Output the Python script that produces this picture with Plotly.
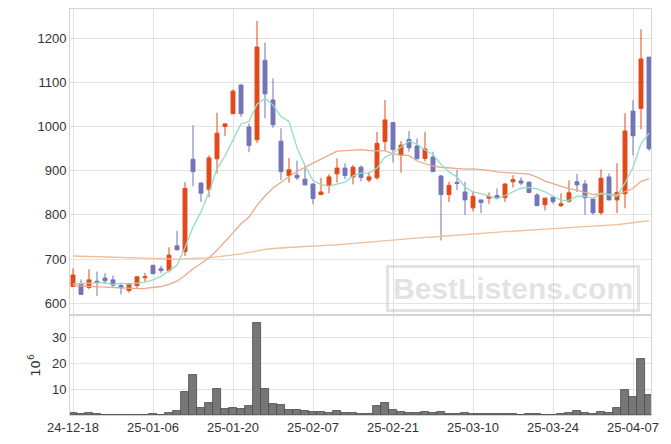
import plotly.graph_objects as go
import pandas as pd

dates = ["24-12-18","24-12-19","24-12-20","24-12-23","24-12-24","24-12-26","24-12-27","24-12-30",
         "25-01-02","25-01-03",
         "25-01-06","25-01-07","25-01-08","25-01-09","25-01-10","25-01-13","25-01-14","25-01-15","25-01-16","25-01-17",
         "25-01-20","25-01-21","25-01-22","25-01-23","25-01-24","25-01-31","25-02-03","25-02-04","25-02-05","25-02-06",
         "25-02-07","25-02-10","25-02-11","25-02-12","25-02-13","25-02-14","25-02-17","25-02-18","25-02-19","25-02-20",
         "25-02-21","25-02-24","25-02-25","25-02-26","25-02-27","25-02-28","25-03-04","25-03-05","25-03-06","25-03-07",
         "25-03-10","25-03-11","25-03-12","25-03-13","25-03-14","25-03-17","25-03-18","25-03-19","25-03-20","25-03-21",
         "25-03-24","25-03-25","25-03-26","25-03-27","25-03-28","25-03-31","25-04-01","25-04-02","25-04-03","25-04-04",
         "25-04-07","25-04-08","25-04-09"]

open_ = [638,645,636,650,657,653,640,629,640,658,
         686,678,674,730,717,926,872,858,927,1000,
         1029,1094,999,970,1150,1060,967,889,890,881,
         870,846,866,893,906,886,908,879,884,966,
         1009,936,971,956,928,931,888,846,874,852,
         816,834,838,844,839,875,877,874,845,823,
         840,821,831,875,870,836,805,886,834,848,
         1035,1041,1157]
high = [679,654,677,672,668,663,645,645,661,669,
        687,685,727,764,874,1003,874,935,1031,1007,
        1084,1095,1007,1239,1190,1109,996,929,923,911,
        871,884,892,928,917,913,912,897,988,1060,
        1010,967,990,973,988,943,891,875,902,875,
        853,834,851,860,871,890,885,876,849,839,
        841,849,878,893,879,837,903,894,917,1030,
        1060,1220,1158]
low = [637,619,632,617,644,636,620,624,635,649,
       666,668,670,720,707,865,829,840,894,979,
       1028,1022,942,963,1019,997,879,873,879,867,
       824,845,849,873,881,869,876,874,880,945,
       919,896,943,926,921,897,742,829,856,800,
       808,804,825,835,829,862,867,849,820,810,
       825,818,828,852,800,800,800,833,804,815,
       935,994,945]
close = [664,620,653,647,651,641,635,644,660,660,
         667,674,709,721,860,898,849,929,985,1006,
         1080,1029,957,1180,1074,1004,898,902,884,868,
         837,852,886,906,889,908,885,886,962,1015,
         948,958,952,927,949,898,846,867,871,834,
         842,828,842,838,870,880,872,851,821,838,
         830,825,850,868,839,805,883,834,851,990,
         979,1153,950]

volume = [0.8,0.3,0.8,0.5,0.15,0.1,0.1,0.1,0.1,0.1,
          0.3,0.1,0.8,1.6,9.0,15.4,2.8,4.6,10.0,2.4,
          2.7,2.4,3.6,35.5,10.0,4.3,4.0,2.0,2.0,1.6,
          1.2,1.2,0.8,1.6,0.8,0.8,0.4,0.4,3.6,4.7,
          2.0,1.2,0.8,0.8,1.2,0.8,1.2,0.4,0.4,0.8,
          0.4,0.4,0.4,0.4,0.4,0.3,0.1,0.4,0.4,0.1,
          0.1,0.4,0.8,1.6,0.8,0.4,1.2,0.8,2.8,9.7,
          7.0,21.6,7.8]

# moving-average warm-up values (before enough bars exist)
ma5_head = [644, 644.5, 645.5, 647]
ma20_head = [640,639,638,637,636,635,634,633.5,633,634,636,638,643,650,663,678,690,703,720]
ma_long = [707,706.5,706,705,704.5,704,703,702.5,702,701,
           700.5,700,700,700,700.5,701,702,703.5,705,707,
           709,712,715,719,722,724,725.5,726.5,727.5,728.5,
           729.5,730,731,732.5,734,735.5,737,739,741,743,
           744.5,746,747,748,749,750,751.5,753,754,755,
           756.5,758,759,760.5,762,763,764.5,765.5,767,768,
           769,770,771,772,773,774,775,776,778,780,
           782,784.5,787]

price_ticks = [600, 700, 800, 900, 1000, 1100, 1200]
vol_ticks = [10, 20, 30]
x_ticks = dates[::10]

cs = pd.Series(close, dtype=float)
ma5 = cs.rolling(5).mean().tolist()
ma5[:4] = ma5_head
ma20 = cs.rolling(20).mean().tolist()
ma20[:19] = ma20_head

UP = "#E2491A"
DOWN = "#7275B6"

fig = go.Figure()
fig.add_trace(go.Scatter(x=dates, y=ma_long, mode="lines",
                         line=dict(color="#F1BF98", width=1.3), xaxis="x", yaxis="y", hoverinfo="skip"))
fig.add_trace(go.Scatter(x=dates, y=ma20, mode="lines",
                         line=dict(color="#EFA989", width=1.3), xaxis="x", yaxis="y", hoverinfo="skip"))
fig.add_trace(go.Scatter(x=dates, y=ma5, mode="lines",
                         line=dict(color="#93DDC3", width=1.3), xaxis="x", yaxis="y", hoverinfo="skip"))
fig.add_trace(go.Candlestick(x=dates, open=open_, high=high, low=low, close=close,
                             increasing=dict(line=dict(color=UP, width=1), fillcolor=UP),
                             decreasing=dict(line=dict(color=DOWN, width=1), fillcolor=DOWN),
                             whiskerwidth=0, xaxis="x", yaxis="y"))
fig.add_trace(go.Bar(x=dates, y=volume, marker=dict(color="#777777", line=dict(color="#4a4a4a", width=0.8)),
                     xaxis="x2", yaxis="y2"))

font_family = "Liberation Sans, Arial, sans-serif"
grid = "#E3E3E3"
axline = "#D4D4D4"

fig.update_layout(
    width=671, height=444,
    margin=dict(l=70, r=20, t=9, b=29),
    paper_bgcolor="white", plot_bgcolor="white",
    showlegend=False, bargap=0,
    font=dict(family=font_family, size=13, color="#333333"),
    xaxis=dict(domain=[0, 1], anchor="y", type="category", range=[-0.375, 72.25],
               tickmode="array", tickvals=x_ticks, showticklabels=False,
               showgrid=True, gridcolor=grid, gridwidth=1,
               showline=True, linecolor=axline, mirror=True, ticks="",
               rangeslider=dict(visible=False)),
    yaxis=dict(domain=[0.249, 1], anchor="x", range=[576, 1266],
               tickmode="array", tickvals=price_ticks,
               showgrid=True, gridcolor=grid, zeroline=False,
               showline=True, linecolor=axline, mirror=True, ticks=""),
    xaxis2=dict(domain=[0, 1], anchor="y2", type="category", range=[-0.375, 72.25],
                matches="x", tickmode="array", tickvals=x_ticks, ticktext=x_ticks,
                showgrid=True, gridcolor=grid,
                showline=True, linecolor=axline, mirror=True, ticks=""),
    yaxis2=dict(domain=[0, 0.244], anchor="x2", range=[0, 38.2],
                tickmode="array", tickvals=vol_ticks,
                showgrid=True, gridcolor=grid, zeroline=False,
                showline=True, linecolor=axline, mirror=True, ticks="",
                automargin=False,
                title=dict(text="10<sup>6</sup>", standoff=8,
                           font=dict(family="DejaVu Sans", size=13, color="#333333"))),
)

fig.add_annotation(xref="paper", yref="paper", x=(513 - 70) / 581, y=(415 - 288) / 406,
                   text="<b>BestListens.com</b>", showarrow=False,
                   font=dict(family="Liberation Sans, Arial", size=30, color="rgba(200,200,200,0.5)"),
                   bordercolor="rgba(200,200,200,0.5)", borderwidth=3, borderpad=4,
                   xanchor="center", yanchor="middle")

fig.write_html("out.html", config={"displayModeBar": False},
               post_script="document.body.style.margin='0px';document.body.style.padding='0px';")
